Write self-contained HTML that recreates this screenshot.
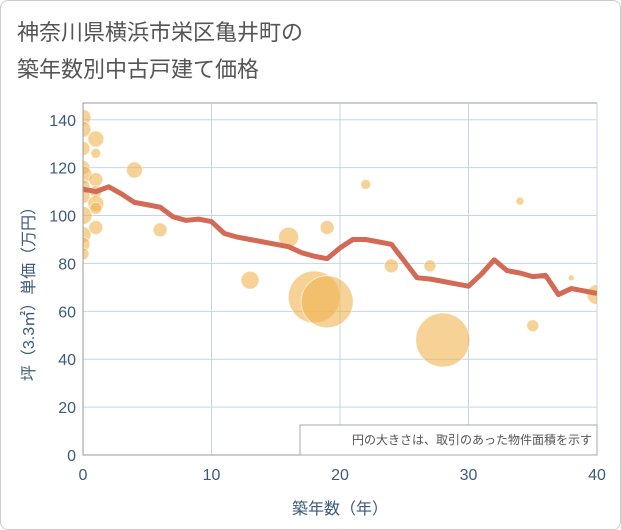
<!DOCTYPE html>
<html><head><meta charset="utf-8"><style>
body{margin:0;background:#fff;font-family:"Liberation Sans","Noto Sans CJK JP",sans-serif}
#wrap{position:relative;width:619px;height:528px;border:1px solid #ccc;border-radius:8px;overflow:hidden}
</style></head><body>
<div id="wrap">
<svg width="621" height="530" id="svg" style="position:absolute;left:-1px;top:-1px">
<defs><clipPath id="pc"><rect x="83" y="103" width="514" height="352"/></clipPath></defs>
<text x="17" y="40" font-size="22" fill="#555">神奈川県横浜市栄区亀井町の</text>
<text x="17" y="77" font-size="22" fill="#555">築年数別中古戸建て価格</text>
<g id="grid"></g>
<g id="bubbles" clip-path="url(#pc)"></g>
<g id="line" clip-path="url(#pc)"></g>
<g id="axes"></g>
<text x="340" y="514" font-size="16" fill="#3d5a7a" text-anchor="middle">築年数（年）</text>
<text transform="translate(34,290) rotate(-90)" font-size="16" fill="#3d5a7a" text-anchor="middle">坪（3.3㎡）単価（万円）</text>
<rect x="300" y="425" width="297" height="30" fill="#fff" stroke="#aaa"/>
<text x="592" y="444" font-size="12" fill="#555" text-anchor="end">円の大きさは、取引のあった物件面積を示す</text>
</svg>
</div>
<script>
const lineYears=[0,1,2,3,4,5,6,7,8,9,10,11,12,13,14,15,16,17,18,19,20,21,22,23,24,25,26,27,28,29,30,31,32,33,34,35,36,37,38,39,40];
const lineValues=[111,110,112,109,105.5,104.5,103.5,99.5,98,98.5,97.5,92.5,91,90,89,88,87,84.5,83,82,86.5,90,90,89,88,81,74,73.5,72.5,71.5,70.5,75.5,81.5,77,76,74.5,75,67,69.5,68.5,67.5];
const bubbleYears=[0,0,0,0,0,0,0,0,0,0,0,1,1,1,1,1,1,1,4,6,13,16,18,19,19,22,24,27,28,34,35,38,40];
const bubbleValues=[141,136,128,120,117,112,108,100,92,88,84,132,126,115,110,105,103,95,119,94,73,91,66,64,95,113,79,79,48,106,54,74,67];
const bubbleSizes=[8,8,7,7,9,7,7,9,8,7,6,8,5,7,6,8,6,7,8,7,9,10,26,26,7,5,7,6,27,4,6,3,10];
const xTicks=[0,10,20,30,40];
const yTicks=[0,20,40,60,80,100,120,140];
const NS="http://www.w3.org/2000/svg";
const X0=83,X1=597,Y0=455,Y1=103;
const xs=v=>X0+(v/40)*(X1-X0);
const ys=v=>Y0-(v/147)*(Y0-Y1);
function mk(t,a,p){const e=document.createElementNS(NS,t);for(const k in a)e.setAttribute(k,a[k]);p.appendChild(e);return e;}
const grid=document.getElementById('grid'),axes=document.getElementById('axes');
mk('rect',{x:X0,y:Y1,width:X1-X0,height:Y0-Y1,fill:'#fff',stroke:'#999'},grid);
xTicks.forEach(t=>{
 const l=mk('line',{x1:xs(t),x2:xs(t),y1:Y1,y2:Y0,stroke:'#c5d5e6'},grid);
 
 
 const tx=mk('text',{x:xs(t),y:Y0+25,'font-size':16,fill:'#3d5a7a','text-anchor':'middle'},axes);
 tx.textContent=t;
 
 
});
yTicks.forEach(t=>{
 const l=mk('line',{x1:X0,x2:X1,y1:ys(t),y2:ys(t),stroke:'#c5d5e6'},grid);
 
 
 const tx=mk('text',{x:X0-7,y:ys(t)+6,'font-size':16,fill:'#3d5a7a','text-anchor':'end'},axes);
 tx.textContent=t;
 
 
});
mk('line',{x1:X0,x2:X1,y1:Y0,y2:Y0,stroke:'#999'},axes);
mk('line',{x1:X0,x2:X0,y1:Y1,y2:Y0,stroke:'#999'},axes);
const bg=document.getElementById('bubbles');
bubbleYears.forEach((yr,i)=>{
 const c=mk('circle',{cx:xs(yr),cy:ys(bubbleValues[i]),r:bubbleSizes[i],fill:'rgba(240,180,80,0.6)',stroke:'rgba(255,255,255,0.6)','stroke-width':1},bg);
 
 
});
const pts=lineYears.map((y,i)=>xs(y)+','+ys(lineValues[i])).join(' ');
const pl=mk('polyline',{points:pts,fill:'none',stroke:'#d26a55',"stroke-width":5,'stroke-linejoin':'round'},document.getElementById('line'));


</script>
</body></html>
